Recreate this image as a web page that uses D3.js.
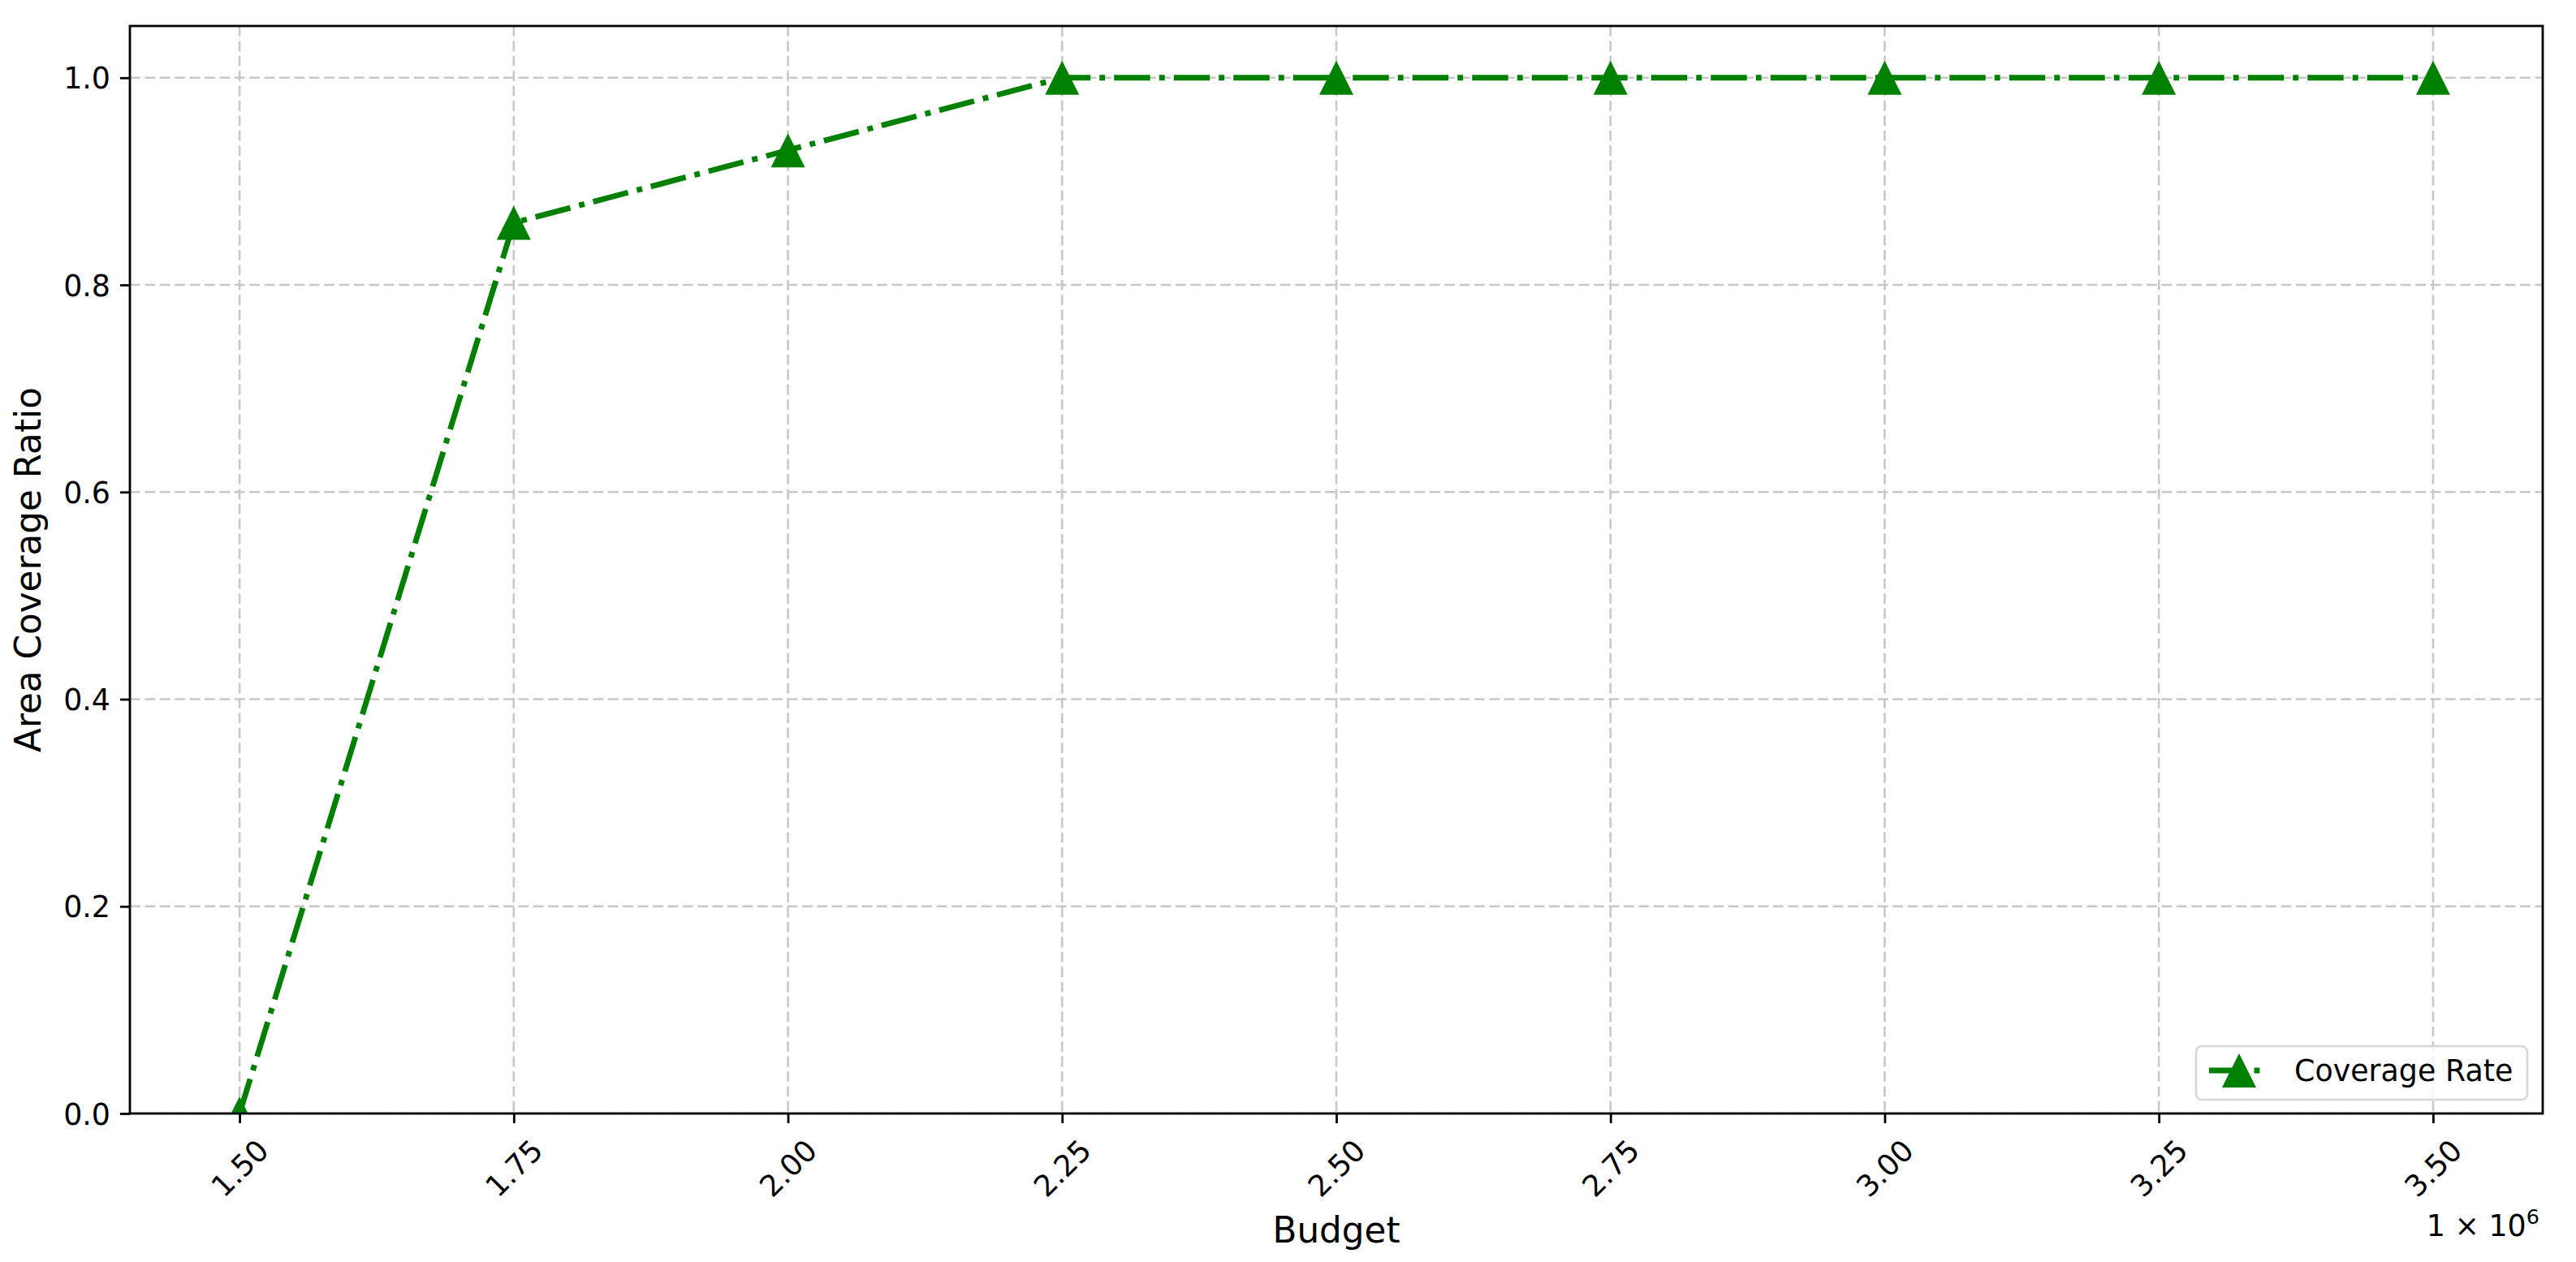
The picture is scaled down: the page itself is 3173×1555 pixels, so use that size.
<!DOCTYPE html>
<html>
<head>
<meta charset="utf-8">
<script src="https://cdn.jsdelivr.net/npm/d3@7"></script>
<style>
  html, body { margin: 0; padding: 0; background: #ffffff; }
  svg { display: block; }
  text { font-family: "DejaVu Sans", sans-serif; fill: #000; }
</style>
</head>
<body>
<script>
// ---- data ----
const budgets = [1500000, 1750000, 2000000, 2250000, 2500000, 2750000, 3000000, 3250000, 3500000];
const coverage = [0.0, 0.86, 0.93, 1.0, 1.0, 1.0, 1.0, 1.0, 1.0];
const xTicks = [1500000, 1750000, 2000000, 2250000, 2500000, 2750000, 3000000, 3250000, 3500000];
const yTicks = [0.0, 0.2, 0.4, 0.6, 0.8, 1.0];
const seriesName = "Coverage Rate";
const xLabel = "Budget";
const yLabel = "Area Coverage Ratio";

// ---- layout ----
const W = 3173, H = 1555;
const plot = { left: 160, right: 3132, top: 32, bottom: 1372 };
const green = "#008000";
const tickFont = 36.4, labelFont = 43.7;

const svg = d3.select("body").append("svg").attr("width", W).attr("height", H);
svg.append("rect").attr("width", W).attr("height", H).attr("fill", "#fff");

const x = d3.scaleLinear().domain([1400000, 3600000]).range([plot.left, plot.right]);
const y = d3.scaleLinear().domain([0, 1.05]).range([plot.bottom, plot.top]);

// clip
svg.append("defs").append("clipPath").attr("id", "clip")
  .append("rect").attr("x", plot.left).attr("y", plot.top)
  .attr("width", plot.right - plot.left).attr("height", plot.bottom - plot.top);

// grid
const grid = svg.append("g");
grid.selectAll("line.gx").data(xTicks).join("line")
  .attr("x1", d => x(d)).attr("x2", d => x(d))
  .attr("y1", plot.top).attr("y2", plot.bottom)
  .attr("stroke", "#c8c8c8").attr("stroke-width", 2.6).attr("stroke-dasharray", "12.8,5.6");
grid.selectAll("line.gy").data(yTicks).join("line")
  .attr("y1", d => y(d)).attr("y2", d => y(d))
  .attr("x1", plot.left).attr("x2", plot.right)
  .attr("stroke", "#c8c8c8").attr("stroke-width", 2.6).attr("stroke-dasharray", "12.8,5.6");

// series
const pts = budgets.map((b, i) => [b, coverage[i]]);
const dash = "44.4,11.1,6.9,11.1";
const series = svg.append("g").attr("clip-path", "url(#clip)");
series.append("path")
  .attr("d", d3.line().x(d => x(d[0])).y(d => y(d[1]))(pts))
  .attr("fill", "none").attr("stroke", green).attr("stroke-width", 6.9)
  .attr("stroke-dasharray", dash).attr("stroke-linejoin", "round");

const tri = s => `M0,${-s/2}L${s/2},${s/2}L${-s/2},${s/2}Z`;
series.selectAll("path.m").data(pts).join("path")
  .attr("class", "m")
  .attr("transform", d => `translate(${x(d[0])},${y(d[1])})`)
  .attr("d", tri(42)).attr("fill", green);

// axes
const xAxis = d3.axisBottom(x).tickValues(xTicks).tickSize(12).tickPadding(12)
  .tickFormat(d => (d / 1e6).toFixed(2));
const gx = svg.append("g").attr("transform", `translate(0,${plot.bottom})`).call(xAxis);
gx.select(".domain").remove();
gx.selectAll(".tick line").attr("stroke", "#000").attr("stroke-width", 2.8);
gx.selectAll(".tick text").each(function() {
  const t = d3.select(this);
  t.attr("font-size", tickFont).attr("font-family", "DejaVu Sans").attr("dy", null)
   .attr("text-anchor", "middle").attr("dominant-baseline", "central");
  const w = this.getComputedTextLength();
  const h = tickFont * 1.164;
  const bh = (w + h) / Math.SQRT2;
  t.attr("y", null).attr("transform", `translate(0,${12 + 12 + bh / 2}) rotate(-45)`);
});

const yAxis = d3.axisLeft(y).tickValues(yTicks).tickSize(12).tickPadding(12)
  .tickFormat(d3.format(".1f"));
const gy = svg.append("g").attr("transform", `translate(${plot.left},0)`).call(yAxis);
gy.select(".domain").remove();
gy.selectAll(".tick line").attr("stroke", "#000").attr("stroke-width", 2.8);
gy.selectAll(".tick text").attr("font-size", tickFont).attr("font-family", "DejaVu Sans")
  .attr("dy", "0.36em");

// frame
svg.append("rect").attr("x", plot.left).attr("y", plot.top)
  .attr("width", plot.right - plot.left).attr("height", plot.bottom - plot.top)
  .attr("fill", "none").attr("stroke", "#000").attr("stroke-width", 2.8);

// axis labels
svg.append("text").attr("x", (plot.left + plot.right) / 2).attr("y", 1531)
  .attr("text-anchor", "middle").attr("font-size", labelFont).text(xLabel);
svg.append("text").attr("transform", `translate(50,${(plot.top + plot.bottom) / 2}) rotate(-90)`)
  .attr("text-anchor", "middle").attr("font-size", labelFont).text(yLabel);

// offset text
const off = svg.append("text").attr("x", plot.right - 4).attr("y", 1523)
  .attr("text-anchor", "end").attr("font-size", tickFont);
off.append("tspan").text("1 × 10");
off.append("tspan").attr("font-size", tickFont * 0.7).attr("dy", -15).text("6");

// legend
const lg = svg.append("g");
lg.append("rect").attr("x", 2705).attr("y", 1289).attr("width", 408).attr("height", 66)
  .attr("rx", 7).attr("fill", "#fff").attr("fill-opacity", 0.8)
  .attr("stroke", "#d6d6d6").attr("stroke-width", 2.6);
lg.append("line").attr("x1", 2721).attr("x2", 2787).attr("y1", 1319).attr("y2", 1319)
  .attr("stroke", green).attr("stroke-width", 6.9).attr("stroke-dasharray", dash);
lg.append("path").attr("transform", "translate(2758,1319)").attr("d", tri(42)).attr("fill", green);
lg.append("text").attr("x", 2826).attr("y", 1332).attr("font-size", tickFont).text(seriesName);
</script>
</body>
</html>
